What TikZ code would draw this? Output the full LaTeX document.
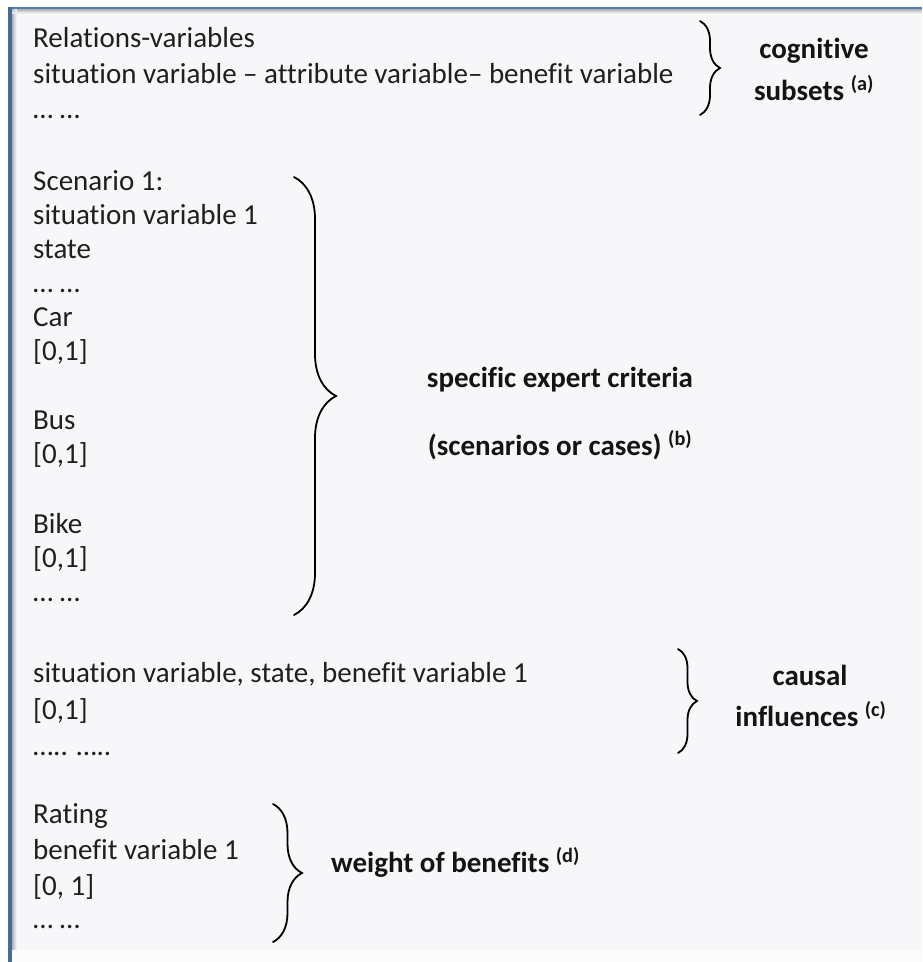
\documentclass[tikz,border=0pt]{standalone}
\usepackage{fontspec}
\setmainfont{Carlito}[Ligatures=NoCommon]
\usetikzlibrary{decorations.pathreplacing}
\definecolor{frameblue}{RGB}{84,125,180}
\definecolor{panelgray}{RGB}{247,247,249}
\tikzset{
  entry/.style={anchor=base west, inner sep=0pt, text=black!88, font=\fontsize{29}{34}\selectfont},
  tag/.style={anchor=base, inner sep=0pt, text=black!92, font=\fontsize{29}{34}\selectfont\bfseries},
  curly/.style={decorate, decoration={brace, amplitude=#1}, line width=1.8pt, line cap=round}
}

\begin{document}
\begin{tikzpicture}[x=1pt, y=-1pt]
\useasboundingbox (0,0) rectangle (922,962);

% Panel with frame and inner shadow
\fill[panelgray] (9,8) rectangle (922,962);
\fill[white!60!panelgray] (11,950) rectangle (922,962);
\foreach \i/\c in {0/30,1/22,2/15,3/9,4/4}{
  \draw[black!\c!panelgray, line width=1pt] (11,9.5+\i) -- (922,9.5+\i);
  \draw[black!\c!panelgray, line width=1pt] (12.5+\i,9) -- (12.5+\i,950);
}
\draw[frameblue, line width=2.5pt] (8,8) -- (922,8);
\draw[frameblue!85!black, line width=4pt] (10,7) -- (10,962);

% Cognitive subsets
\node[entry] (rel) at (33,47) {Relations-variables};
\node[entry] (relsab) at (33,83) {situation variable – attribute variable– benefit variable};
\node[entry] (reldots) at (33,118) {… …};
\draw[curly=20pt] (700,21) -- (700,115);
\node[tag] (cog) at (814,58) {cognitive};
\node[tag] (subs) at (814,100) {subsets \textsuperscript{(a)}};

% Scenarios
\node[entry] (scen) at (33,190) {Scenario 1:};
\node[entry] (sitv) at (33,224) {situation variable 1};
\node[entry] (state) at (33,258) {state};
\node[entry] (scdots) at (33,292) {… …};
\node[entry] (car) at (33,326) {Car};
\node[entry] (carr) at (33,360) {[0,1]};
\node[entry] (bus) at (33,429) {Bus};
\node[entry] (busr) at (33,463) {[0,1]};
\node[entry] (bike) at (33,533) {Bike};
\node[entry] (biker) at (33,567) {[0,1]};
\node[entry] (bkdots) at (33,601) {… …};
\draw[curly=42pt] (294,177) -- (294,615);
\node[tag] (spec) at (560,387) {specific expert criteria};
\node[tag] (cases) at (560,455) {(scenarios or cases) \textsuperscript{(b)}};

% Causal influences
\node[entry] (caus) at (33,682) {situation variable, state, benefit variable 1};
\node[entry] (causr) at (33,719) {[0,1]};
\node[entry] (causdots) at (33,755) {….. …..};
\draw[curly=19pt] (678,649) -- (678,753);
\node[tag] (causal) at (810,685) {causal};
\node[tag] (infl) at (811,726) {influences \textsuperscript{(c)}};

% Weight of benefits
\node[entry] (rate) at (33,823) {Rating};
\node[entry] (benv) at (33,859) {benefit variable 1};
\node[entry] (rater) at (33,895) {[0, 1]};
\node[entry] (ratedots) at (33,928) {… …};
\draw[curly=29pt] (273,804) -- (273,942);
\node[tag, anchor=base west] (weight) at (331,872) {weight of benefits \textsuperscript{(d)}};
\end{tikzpicture}
\end{document}
